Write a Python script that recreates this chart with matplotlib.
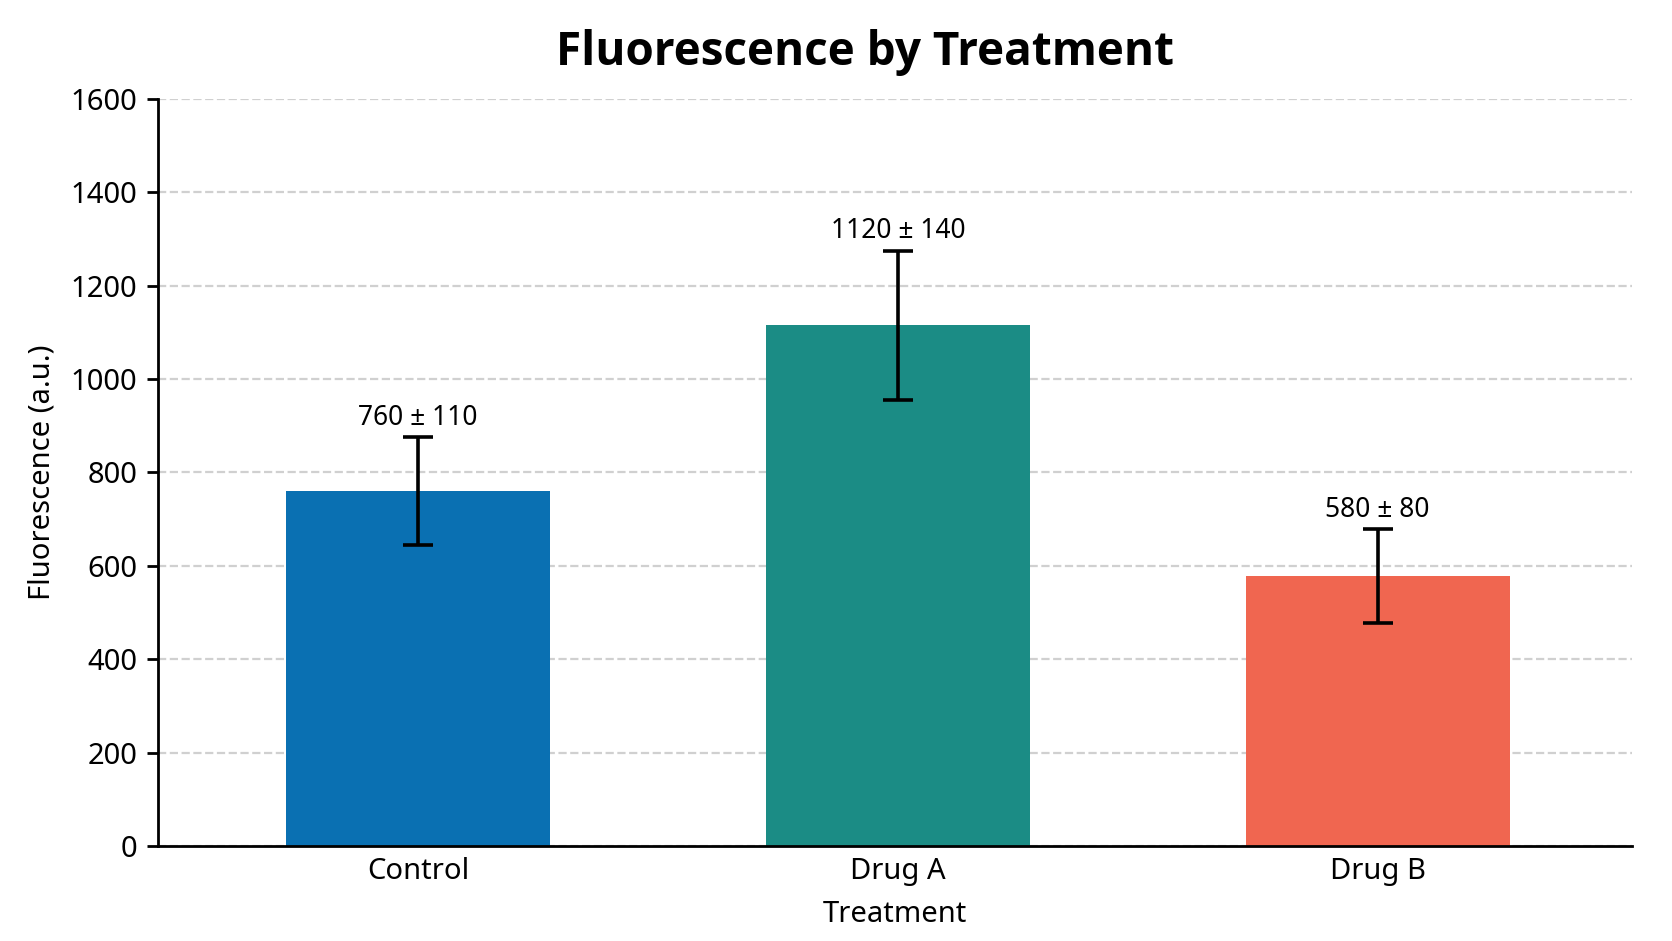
import numpy as np
import matplotlib.pyplot as plt

plt.rcParams['font.family'] = ['Noto Sans', 'DejaVu Sans']

# Data
treatments = ['Control', 'Drug A', 'Drug B']
means = [760, 1115, 578]
errors = [115, 160, 100]          # error bars as drawn
label_means = [760, 1120, 580]    # values printed above the bars
label_errs = [110, 140, 80]
colors = ['#0a70b2', '#1b8c85', '#f06650']
y_ticks = [0, 200, 400, 600, 800, 1000, 1200, 1400, 1600]

fig, ax = plt.subplots(figsize=(8.36, 4.705), dpi=200)
fig.subplots_adjust(left=0.0945, right=0.976, top=0.895, bottom=0.101)

x = np.arange(len(treatments))
ax.bar(x, means, width=0.55, color=colors, zorder=2)
ax.errorbar(x, means, yerr=errors, fmt='none', ecolor='black',
            elinewidth=1.3, capsize=5.5, capthick=1.3, zorder=3)

for xi, m, e, lm, le in zip(x, means, errors, label_means, label_errs):
    ax.annotate(f'{lm} \u00b1 {le}', (xi, m + e), xytext=(0, 2),
                textcoords='offset points', ha='center', va='bottom',
                fontsize=9.5)

ax.set_title('Fluorescence by Treatment', fontsize=16.5, fontweight='bold',
             family=['Open Sans', 'DejaVu Sans'], pad=12, x=0.48)
ax.set_xlabel('Treatment', fontsize=10.5, labelpad=5)
ax.set_ylabel('Fluorescence (a.u.)', fontsize=10.5, labelpad=5)

ax.set_xticks(x)
ax.set_xticklabels(treatments, fontsize=10.5)
ax.set_yticks(y_ticks)
ax.tick_params(axis='y', labelsize=10.5, length=4, width=1)
ax.tick_params(axis='x', length=0, pad=4)
ax.set_ylim(0, 1600)
ax.set_xlim(-0.542, 2.53)

ax.grid(axis='y', linestyle='--', color='#d0d0d0', linewidth=0.8, zorder=0)
ax.set_axisbelow(True)
for side in ['top', 'right']:
    ax.spines[side].set_visible(False)
for side in ['left', 'bottom']:
    ax.spines[side].set_linewidth(1.0)

plt.savefig('out.png', dpi=200)
